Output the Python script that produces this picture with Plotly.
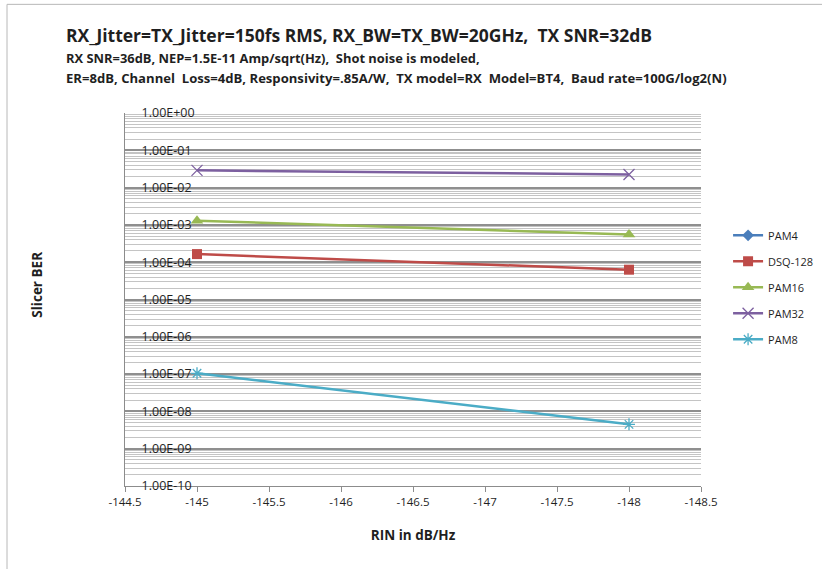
import plotly.graph_objects as go

# RIN sweep (dB/Hz) and slicer BER per modulation format
rin_db_hz = [-145, -148]
ber_pam4 = [None, None]
ber_dsq128 = [1.65e-4, 6.3e-5]
ber_pam16 = [1.3e-3, 5.5e-4]
ber_pam32 = [2.9e-2, 2.25e-2]
ber_pam8 = [1.05e-7, 4.5e-9]

x_ticks = [-144.5, -145, -145.5, -146, -146.5, -147, -147.5, -148, -148.5]
x_tick_text = ["-144.5", "-145", "-145.5", "-146", "-146.5", "-147", "-147.5", "-148", "-148.5"]
y_ticks = [1e0, 1e-1, 1e-2, 1e-3, 1e-4, 1e-5, 1e-6, 1e-7, 1e-8, 1e-9, 1e-10]
y_tick_text = ["1.00E+00", "1.00E-01", "1.00E-02", "1.00E-03", "1.00E-04", "1.00E-05",
               "1.00E-06", "1.00E-07", "1.00E-08", "1.00E-09", "1.00E-10"]

FONT = "Open Sans"
TXT = "#1f1f1f"

# (name, values, colour, marker, y-axis)
series = [
    ("PAM4", ber_pam4, "#4a7ebb", dict(symbol="diamond", size=9), "y2"),
    ("DSQ-128", ber_dsq128, "#be4b48", dict(symbol="square", size=10), "y"),
    ("PAM16", ber_pam16, "#98b954", dict(symbol="triangle-up", size=11), "y"),
    ("PAM32", ber_pam32, "#7d60a0", dict(symbol="x-thin-open", size=11, line=dict(width=1.3, color="#7d60a0")), "y"),
    ("PAM8", ber_pam8, "#4bacc6", dict(symbol="asterisk-open", size=10, line=dict(width=1.3, color="#4bacc6")), "y"),
]

fig = go.Figure()
for i, (name, vals, color, marker, yax) in enumerate(series):
    fig.add_trace(go.Scatter(
        x=rin_db_hz, y=vals, name=name, mode="lines+markers",
        line=dict(color=color, width=2.5),
        marker=dict(color=color, **marker),
        legendgroup=f"g{i}", yaxis=yax,
    ))

# minor log gridlines at 2..9 of every decade
minor_vals = [m * 10.0 ** e for e in range(-10, 0) for m in range(2, 10)]

fig.update_layout(
    width=822, height=569,
    margin=dict(l=125, r=121, t=113, b=83, autoexpand=False),
    paper_bgcolor="white", plot_bgcolor="white",
    font=dict(family=FONT, color=TXT, size=11),
    showlegend=True,
    legend=dict(x=1.047, y=0.711, xanchor="left", yanchor="top",
                font=dict(size=11, family=FONT, color=TXT),
                tracegroupgap=7, bgcolor="rgba(0,0,0,0)", itemwidth=30),
    xaxis=dict(
        range=[-144.5, -148.5], tickmode="array", tickvals=x_ticks, ticktext=x_tick_text,
        showgrid=False, zeroline=False, showline=True, linecolor="#8c8c8c", linewidth=1,
        ticks="outside", ticklen=5, tickcolor="#8c8c8c",
        tickfont=dict(size=11.5, family=FONT, color=TXT),
        title=dict(text="<b>RIN in dB/Hz</b>", font=dict(size=13.5, family=FONT, color=TXT), standoff=22),
    ),
    yaxis=dict(
        type="log", range=[-10, 0], tickmode="array", tickvals=y_ticks,
        showticklabels=False, ticks="",
        showgrid=True, gridcolor="#8f8f8f", gridwidth=1.5,
        minor=dict(tickmode="array", tickvals=minor_vals, showgrid=True,
                   gridcolor="#c4c4c4", gridwidth=1, ticks=""),
        zeroline=False, showline=True, linecolor="#8c8c8c", linewidth=1,
    ),
    yaxis2=dict(
        type="log", range=[-10, 0], overlaying="y", anchor="free", side="right",
        position=0.027, tickmode="array", tickvals=y_ticks, ticktext=y_tick_text,
        showgrid=False, showline=False, ticks="", zeroline=False,
        tickfont=dict(size=12.5, family=FONT, color=TXT),
    ),
)


def px_x(px):
    return (px - 125) / 576.0


def px_y(py):
    return (486 - py) / 372.5


# headline and condition lines
fig.add_annotation(x=px_x(64), y=px_y(36), xref="paper", yref="paper", xanchor="left", yanchor="middle",
                   showarrow=False, text="<b>RX_Jitter=TX_Jitter=150fs RMS, RX_BW=TX_BW=20GHz,  TX SNR=32dB</b>",
                   font=dict(size=17.5, family=FONT, color=TXT))
fig.add_annotation(x=px_x(64), y=px_y(58.5), xref="paper", yref="paper", xanchor="left", yanchor="middle",
                   showarrow=False, text="<b>RX SNR=36dB, NEP=1.5E-11 Amp/sqrt(Hz),  Shot noise is modeled,</b>",
                   font=dict(size=12.9, family=FONT, color=TXT))
fig.add_annotation(x=px_x(64), y=px_y(78.5), xref="paper", yref="paper", xanchor="left", yanchor="middle",
                   showarrow=False,
                   text="<b>ER=8dB, Channel  Loss=4dB, Responsivity=.85A/W,  TX model=RX  Model=BT4,  Baud rate=100G/log2(N)</b>",
                   font=dict(size=13.1, family=FONT, color=TXT))
fig.add_annotation(x=px_x(37), y=px_y(285), xref="paper", yref="paper", xanchor="center", yanchor="middle",
                   showarrow=False, textangle=-90, text="<b>Slicer BER</b>",
                   font=dict(size=13.5, family=FONT, color=TXT))

# chart frame edges
fig.add_shape(type="line", xref="paper", yref="paper", x0=px_x(7), x1=px_x(822), y0=px_y(5), y1=px_y(5),
              line=dict(color="#b8b8b8", width=1))
fig.add_shape(type="line", xref="paper", yref="paper", x0=px_x(7), x1=px_x(7), y0=px_y(5), y1=px_y(569),
              line=dict(color="#b8b8b8", width=1))

fig.write_html("out.html")
